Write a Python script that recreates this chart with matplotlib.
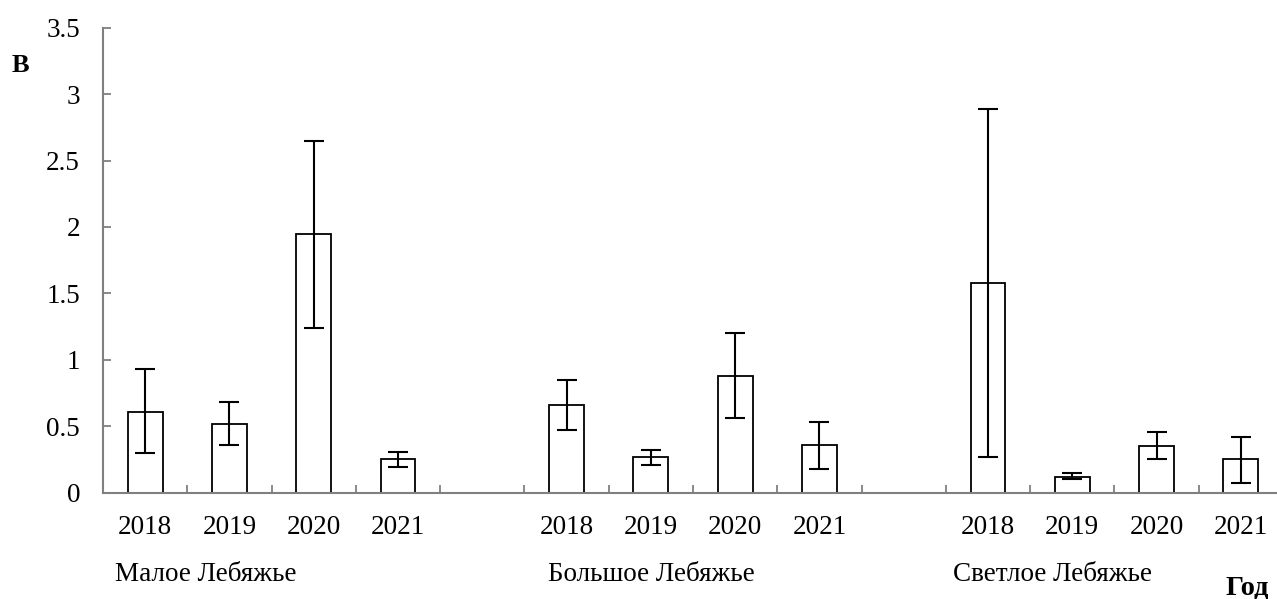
import matplotlib
matplotlib.use("Agg")
import matplotlib.pyplot as plt
import numpy as np

years = ['2018', '2019', '2020', '2021']
sites = ['Малое Лебяжье', 'Большое Лебяжье', 'Светлое Лебяжье']

ml_mean = [0.61, 0.52, 1.945, 0.255]
ml_low = [0.30, 0.36, 1.24, 0.19]
ml_high = [0.93, 0.68, 2.65, 0.31]

bl_mean = [0.66, 0.265, 0.88, 0.36]
bl_low = [0.47, 0.21, 0.565, 0.18]
bl_high = [0.85, 0.32, 1.20, 0.53]

sl_mean = [1.58, 0.12, 0.35, 0.25]
sl_low = [0.27, 0.10, 0.255, 0.07]
sl_high = [2.89, 0.145, 0.46, 0.42]

y_ticks = [0, 0.5, 1, 1.5, 2, 2.5, 3, 3.5]
y_tick_labels = ['0', '0.5', '1', '1.5', '2', '2.5', '3', '3.5']

plt.rcParams['font.family'] = ['Liberation Serif', 'DejaVu Serif']

fig = plt.figure(figsize=(12.77, 5.99), dpi=100)
W, H = 1277, 599
ax = fig.add_axes([103 / W, (H - 492.7) / H, 1180 / W, 465 / H])

means = [ml_mean, bl_mean, sl_mean]
lows = [ml_low, bl_low, sl_low]
highs = [ml_high, bl_high, sl_high]

positions = []
for g in range(len(sites)):
    pos = [g * 5 + i for i in range(len(years))]
    positions.extend(pos)
    m = np.array(means[g])
    lo = np.array(lows[g])
    hi = np.array(highs[g])
    ax.bar(pos, m, width=0.415, color='white', edgecolor='black', linewidth=1.3, zorder=2)
    ax.errorbar(pos, m, yerr=[m - lo, hi - m], fmt='none', ecolor='black',
                elinewidth=1.5, capsize=7, capthick=1.5, zorder=3)

ax.set_xlim(-0.5, 13.5)
ax.set_ylim(0, 3.5)
ax.set_yticks(y_ticks)
ax.set_yticklabels(y_tick_labels, fontsize=19.5)

ax.set_xticks(np.arange(0.5, 14.0, 1.0))
ax.set_xticklabels([])
ax.set_xticks(positions, minor=True)
ax.set_xticklabels(years * len(sites), minor=True, fontsize=19.5)
ax.tick_params(axis='x', which='minor', length=0, pad=16)
ax.tick_params(axis='x', which='major', direction='in', length=6, width=1.3, color='#808080')
ax.tick_params(axis='y', which='major', direction='in', length=6, width=1.3, color='#808080', pad=16.5)

for s in ['top', 'right']:
    ax.spines[s].set_visible(False)
for s in ['left', 'bottom']:
    ax.spines[s].set_color('#808080')
    ax.spines[s].set_linewidth(1.5)

trans = ax.get_xaxis_transform()
label_x = [-0.36, 4.78, 9.58]
for x, name in zip(label_x, sites):
    ax.text(x, -0.175, name, transform=trans, fontsize=19.5, ha='left', va='center', clip_on=False)

fig.text(1247 / W, 1 - 589 / H, 'Год', fontsize=20.5, fontweight='bold', ha='center', va='center')
fig.text(20.5 / W, 1 - 66 / H, 'В', fontsize=19, fontweight='bold', ha='center', va='center')

fig.savefig('out.png', dpi=100)
